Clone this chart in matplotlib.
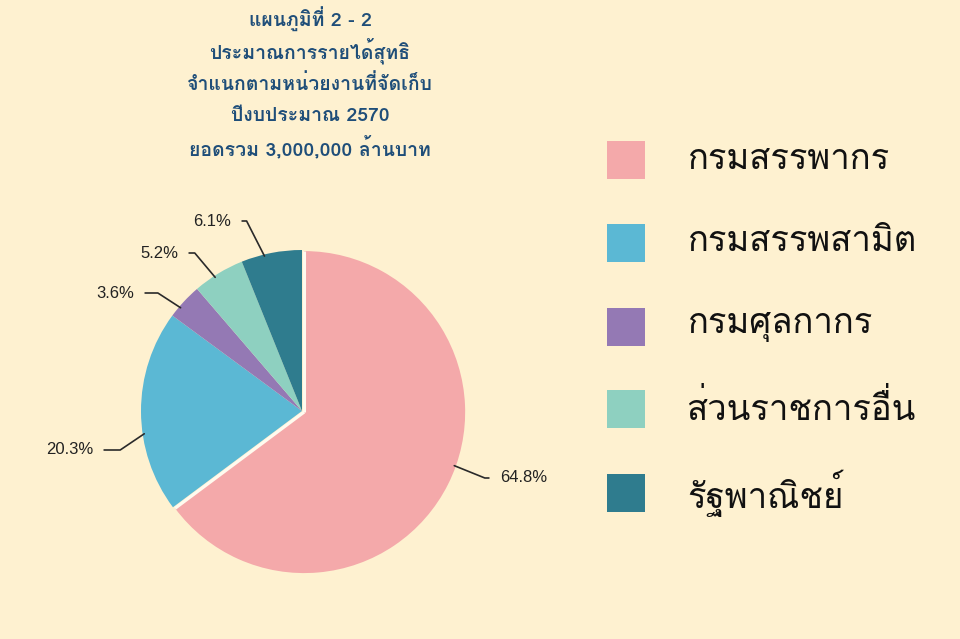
import matplotlib
matplotlib.use("Agg")
import matplotlib.pyplot as plt
import numpy as np

# ---------------- data ----------------
categories = ["กรมสรรพากร", "กรมสรรพสามิต", "กรมศุลกากร", "ส่วนราชการอื่น", "รัฐพาณิชย์"]
shares = [64.8, 20.3, 3.6, 5.2, 6.1]
pct_labels = ["64.8%", "20.3%", "3.6%", "5.2%", "6.1%"]
title_lines = ["แผนภูมิที่ 2 - 2", "ประมาณการรายได้สุทธิ", "จำแนกตามหน่วยงานที่จัดเก็บ",
               "ปีงบประมาณ 2570", "ยอดรวม 3,000,000 ล้านบาท"]

colors = ["#F4A9AA", "#5BB8D4", "#9479B4", "#8ED0C0", "#2F7C8E"]
bg = "#FEF1D0"
thai_family = ["Loma", "Noto Sans Thai Looped", "DejaVu Sans"]

fig = plt.figure(figsize=(9.6, 6.39), dpi=100, facecolor=bg)
W, H = 960, 639
R = 161.0  # pie radius in px
cx, cy = 302, 411
span = 1.6
ax = fig.add_axes([(cx - span * R) / W, (H - cy - span * R) / H, 2 * span * R / W, 2 * span * R / H])
ax.set_facecolor("none")

explode = [0.015, 0, 0, 0, 0]
wedges, _ = ax.pie(shares, colors=colors, startangle=90, counterclock=False,
                   explode=explode, radius=1.0,
                   wedgeprops=dict(edgecolor="none", linewidth=0))
# thin light separators along the radial edges of the first (exploded) wedge
w0 = wedges[0]
for th in (w0.theta1, w0.theta2):
    t = np.deg2rad(th)
    ax.plot([w0.center[0], w0.center[0] + np.cos(t) * w0.r],
            [w0.center[1], w0.center[1] + np.sin(t) * w0.r],
            color="#FFFBEF", lw=2.2, solid_capstyle="butt", zorder=3)
ax.set_xlim(-span, span)
ax.set_ylim(-span, span)
ax.set_aspect("equal")
ax.axis("off")

# label layout: text anchor (px), alignment, where along the wedge the leader
# touches (fraction from theta2 side), direction of the leader's slanted part
label_px = [(500, 478, "left"), (93, 450, "right"), (134, 293, "right"),
            (178, 253, "right"), (231, 221, "right")]
anchor_frac = [0.47, 0.39, 0.31, 0.41, 0.38]
diag_angle = [-22, 214, 147, 130, 117]
for w, lab, (px, py, ha), fr, da in zip(wedges, pct_labels, label_px, anchor_frac, diag_angle):
    ang = np.deg2rad(w.theta2 - fr * (w.theta2 - w.theta1))
    xa = w.center[0] + np.cos(ang) * 0.99
    ya = w.center[1] + np.sin(ang) * 0.99
    tx = (px - cx) / R
    ty = (cy - py) / R
    ax.annotate(lab, xy=(xa, ya), xytext=(tx, ty), ha=ha, va="center",
                fontsize=12, family=["Liberation Sans", "DejaVu Sans"], color="#222222",
                annotation_clip=False,
                arrowprops=dict(arrowstyle="-", color="#2A2A2A", lw=1.2,
                                shrinkA=6, shrinkB=0,
                                connectionstyle=f"angle,angleA=0,angleB={da},rad=0"))

title_y = [19, 51, 84, 116, 148]
for t, y in zip(title_lines, title_y):
    fig.text(310 / W, 1 - y / H, t, ha="center", va="center", fontsize=14,
             fontweight="bold", color="#1F4E79", family=thai_family)

leg_y = [160, 243, 327, 409, 493]
for c, name, y in zip(colors, categories, leg_y):
    fig.patches.append(plt.Rectangle(((607) / W, 1 - (y + 19) / H), 38 / W, 38 / H,
                                     transform=fig.transFigure, facecolor=c, edgecolor="none"))
    fig.text(687 / W, 1 - y / H, name, ha="left", va="center", fontsize=25,
             color="#111111", family=thai_family)

fig.savefig("out.png", dpi=100, facecolor=bg)
